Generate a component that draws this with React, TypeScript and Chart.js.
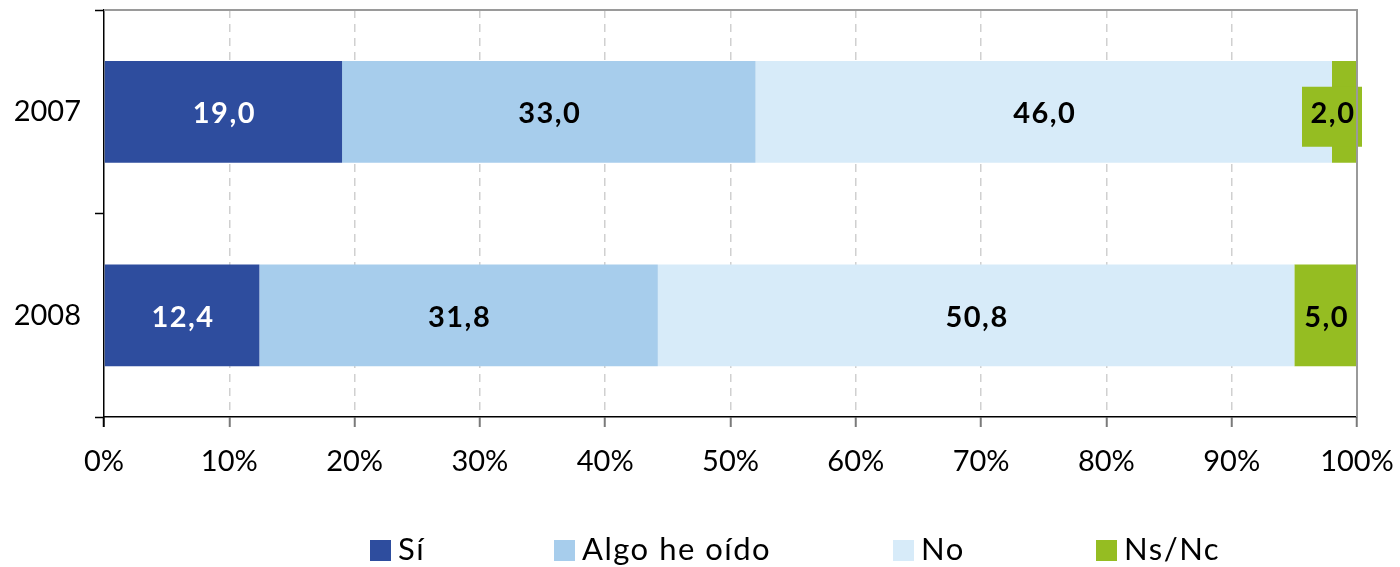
import React, { useEffect, useRef } from "react";
import { Chart, registerables } from "chart.js";

Chart.register(...registerables);

const categories = ["2007", "2008"];
const seriesNames = ["Sí", "Algo he oído", "No", "Ns/Nc"];
const siValues = [19.0, 12.4];
const algoValues = [33.0, 31.8];
const noValues = [46.0, 50.8];
const nsncValues = [2.0, 5.0];
const seriesColors = ["#2E4D9E", "#A7CDEC", "#D7EBF9", "#95BD22"];
const labelColors = ["#ffffff", "#000000", "#000000", "#000000"];

const FONT = "Lato, 'Noto Sans', sans-serif";
const LEGEND_X = [370, 554, 893, 1096];

const fmt = (v: number) => v.toFixed(1).replace(".", ",");

const labelPlugin = {
  id: "barLabels",
  afterDatasetsDraw(chart: any) {
    const ctx = chart.ctx;
    const area = chart.chartArea;
    ctx.save();
    ctx.font = `bold 29px ${FONT}`;
    (ctx as any).letterSpacing = "1.5px";
    ctx.textAlign = "center";
    ctx.textBaseline = "middle";
    chart.data.datasets.forEach((ds: any, di: number) => {
      const meta = chart.getDatasetMeta(di);
      meta.data.forEach((bar: any, i: number) => {
        const v = ds.data[i];
        const text = fmt(v);
        const tw = ctx.measureText(text).width;
        let cx = (bar.x + bar.base) / 2;
        const bw = Math.abs(bar.x - bar.base);
        if (tw + 6 > bw) {
          const boxW = Math.max(tw + 10, 60);
          const right = Math.min(cx + boxW / 2, area.right + 5);
          const left = right - boxW;
          cx = (left + right) / 2;
          ctx.fillStyle = ds.backgroundColor;
          ctx.fillRect(left, bar.y - 25, boxW, 60);
        }
        ctx.fillStyle = labelColors[di];
        ctx.fillText(text, cx + 1, bar.y + 2);
      });
    });
    ctx.restore();
  },
};

const framePlugin = {
  id: "frame",
  afterDraw(chart: any) {
    const ctx = chart.ctx;
    const a = chart.chartArea;
    ctx.save();
    ctx.strokeStyle = "#9a9a9a";
    ctx.lineWidth = 2;
    ctx.beginPath();
    ctx.moveTo(a.left, a.top);
    ctx.lineTo(a.right, a.top);
    ctx.lineTo(a.right, a.bottom);
    ctx.stroke();
    // legend
    ctx.font = `31px ${FONT}`;
    (ctx as any).letterSpacing = "1.5px";
    ctx.textBaseline = "middle";
    ctx.textAlign = "left";
    seriesNames.forEach((name, i) => {
      const x = LEGEND_X[i];
      ctx.fillStyle = seriesColors[i];
      ctx.fillRect(x, 540, 21, 21);
      ctx.fillStyle = "#000";
      ctx.fillText(name, x + 28, 550);
    });
    ctx.restore();
  },
};

export default function App() {
  const ref = useRef<HTMLCanvasElement | null>(null);
  useEffect(() => {
    if (!ref.current) return;
    const values = [siValues, algoValues, noValues, nsncValues];
    const chart = new Chart(ref.current, {
      type: "bar",
      data: {
        labels: categories,
        datasets: seriesNames.map((name, i) => ({
          label: name,
          data: values[i],
          backgroundColor: seriesColors[i],
          borderWidth: 0,
          categoryPercentage: 1,
          barPercentage: 0.5,
        })),
      },
      options: {
        indexAxis: "y",
        responsive: false,
        animation: false,
        layout: { padding: { top: 10, right: 43, bottom: 90, left: 0 } },
        plugins: { legend: { display: false }, tooltip: { enabled: false } },
        scales: {
          x: {
            stacked: true,
            min: 0,
            max: 100,
            afterFit: (s: any) => {
              s.height = 60;
              s.paddingLeft = 0;
              s.paddingRight = 0;
            },
            ticks: {
              stepSize: 10,
              callback: (v: any) => v + "%",
              color: "#000",
              font: { family: FONT, size: 29 },
              padding: 17,
              maxRotation: 0,
            },
            grid: {
              color: (c: any) =>
                c.index === 0 || c.index === 10 ? "rgba(0,0,0,0)" : "#d0d0d0",
              lineWidth: 1.5,
              tickColor: (c: any) => (c.index === 0 ? "#000" : "#7a7a7a"),
              tickLength: 10,
              tickWidth: 2,
              tickBorderDash: [],
            },
            border: { color: "#000", width: 1.5, dash: [8, 6] },
          },
          y: {
            stacked: true,
            afterFit: (s: any) => {
              s.width = 104;
              s.paddingTop = 0;
              s.paddingBottom = 0;
            },
            ticks: {
              color: "#000",
              font: { family: FONT, size: 29 },
              padding: 14,
            },
            grid: {
              offset: true,
              drawOnChartArea: false,
              tickLength: 9,
              tickColor: "#000",
              tickWidth: 1.5,
            },
            border: { color: "#000", width: 1.5 },
          },
        },
      },
      plugins: [labelPlugin, framePlugin],
    });
    return () => chart.destroy();
  }, []);
  return (
    <div style={{ position: "absolute", left: 0, top: 0, width: 1400, height: 567, background: "#fff" }}>
      <canvas ref={ref} width={1400} height={567} />
    </div>
  );
}
